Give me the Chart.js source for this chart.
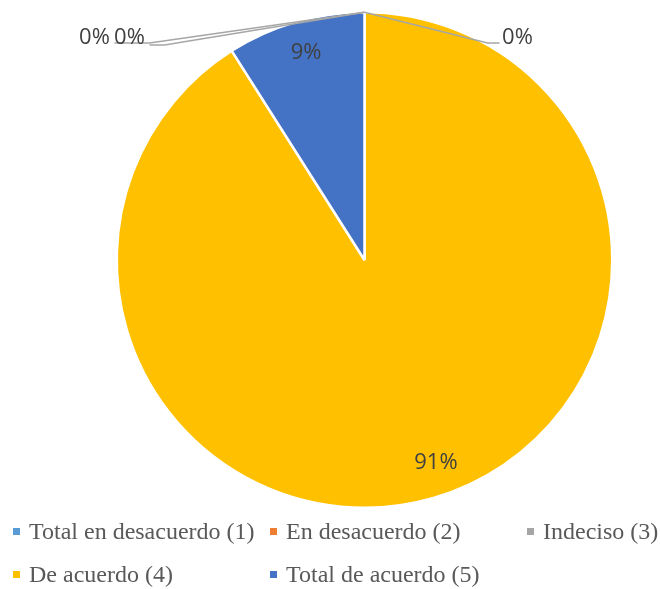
<!DOCTYPE html>
<html>
<head>
<meta charset="utf-8">
<script src="https://cdn.jsdelivr.net/npm/chart.js@4"></script>
<style>
  html, body { margin: 0; padding: 0; background: #fff; }
  #wrap { position: relative; width: 660px; height: 589px; }
  #pieChart { position: absolute; left: 0; top: 0; }
  #legend { position: absolute; left: 0; top: 0; width: 660px; height: 589px; pointer-events: none;
    font-family: "Liberation Serif", "Times New Roman", serif; font-size: 24px; color: #595959; }
  .item { position: absolute; white-space: nowrap; line-height: 24px; }
  .item i { position: absolute; left: -16px; top: 9px; width: 7px; height: 7px; }
</style>
</head>
<body>
<div id="wrap">
  <canvas id="pieChart" width="660" height="589"></canvas>
  <div id="legend"></div>
</div>
<script>
const CATEGORIES = ["Total en desacuerdo (1)", "En desacuerdo (2)", "Indeciso (3)", "De acuerdo (4)", "Total de acuerdo (5)"];
const PERCENTS = [0, 0, 0, 91, 9];
const COLORS = ["#5B9BD5", "#ED7D31", "#A5A5A5", "#FFC000", "#4472C4"];

// where the outside labels of the empty slices go (offsets from the pie centre)
const ZERO_SPOTS = [
  { elbow: [123, -217], end: [135, -217], text: [153, -222] },
  { elbow: [-215, -217], end: [-250, -217], text: [-235, -222] },
  { elbow: [-200, -215], end: [-215, -215], text: [-270, -222] }
];
// small shifts of the inside labels (best-fit placement)
const INSIDE_NUDGE = [null, null, null, [12, -2], [1, -3]];

// legend placement, same as the spreadsheet export
const LEGEND_POS = [[29, 519], [286, 519], [543, 519], [29, 562], [286, 562]];

const legendBox = document.getElementById("legend");
CATEGORIES.forEach((name, i) => {
  const div = document.createElement("div");
  div.className = "item";
  div.style.left = LEGEND_POS[i][0] + "px";
  div.style.top = LEGEND_POS[i][1] + "px";
  const mark = document.createElement("i");
  mark.style.background = COLORS[i];
  div.appendChild(mark);
  div.appendChild(document.createTextNode(name));
  legendBox.appendChild(div);
});

const pieLabels = {
  id: "pieLabels",
  afterDatasetsDraw(chart) {
    const ctx = chart.ctx;
    const arcs = chart.getDatasetMeta(0).data;
    ctx.save();
    ctx.font = '22px "Open Sans", "Noto Sans", sans-serif';
    ctx.fillStyle = "#404040";
    ctx.textBaseline = "middle";
    ctx.textAlign = "center";
    let z = 0;
    arcs.forEach((arc, i) => {
      const p = arc.getProps(["x", "y", "startAngle", "endAngle", "outerRadius"], true);
      const mid = (p.startAngle + p.endAngle) / 2;
      const txt = PERCENTS[i] + "%";
      if (PERCENTS[i] > 0) {
        const r = p.outerRadius * 0.86;
        const n = INSIDE_NUDGE[i] || [0, 0];
        ctx.fillText(txt, p.x + Math.cos(mid) * r + n[0], p.y + Math.sin(mid) * r + n[1]);
      } else {
        const s = ZERO_SPOTS[z++];
        const ax = p.x + Math.cos(mid) * p.outerRadius;
        const ay = p.y + Math.sin(mid) * p.outerRadius;
        ctx.strokeStyle = "#A6A6A6";
        ctx.lineWidth = 1.5;
        ctx.beginPath();
        ctx.moveTo(ax, ay);
        ctx.lineTo(p.x + s.elbow[0], p.y + s.elbow[1]);
        ctx.lineTo(p.x + s.end[0], p.y + s.end[1]);
        ctx.stroke();
        ctx.fillText(txt, p.x + s.text[0], p.y + s.text[1]);
      }
    });
    ctx.restore();
  }
};

new Chart(document.getElementById("pieChart"), {
  type: "pie",
  data: {
    labels: CATEGORIES,
    datasets: [{
      data: PERCENTS,
      backgroundColor: COLORS,
      borderColor: "#ffffff",
      borderWidth: 2.5
    }]
  },
  options: {
    responsive: false,
    animation: false,
    layout: { padding: { top: 11, bottom: 80, left: 84, right: 15 } },
    plugins: {
      legend: { display: false },
      tooltip: { enabled: false }
    }
  },
  plugins: [pieLabels]
});
</script>
</body>
</html>
